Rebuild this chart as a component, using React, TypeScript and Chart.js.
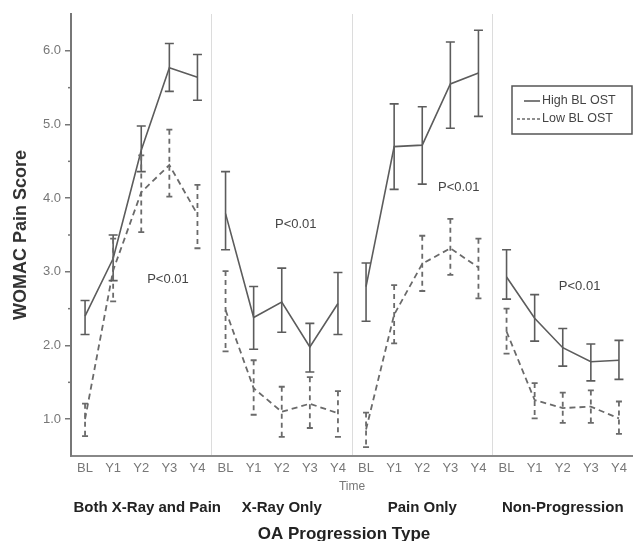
import React, { useEffect, useRef } from 'react';
import { Chart, registerables } from 'chart.js';
Chart.register(...registerables);

const timeLabels = ['BL', 'Y1', 'Y2', 'Y3', 'Y4'];
const groupLabels = ['Both X-Ray and Pain', 'X-Ray Only', 'Pain Only', 'Non-Progression'];
const categories = groupLabels.flatMap(() => timeLabels);

const highLabel = 'High BL OST';
const lowLabel = 'Low BL OST';

const highMean = [2.40, 3.18, 4.65, 5.77, 5.64, 3.79, 2.38, 2.59, 1.98, 2.57, 2.80, 4.70, 4.72, 5.55, 5.70, 2.93, 2.37, 1.97, 1.78, 1.80];
const highUpper = [2.61, 3.50, 4.98, 6.10, 5.95, 4.36, 2.80, 3.05, 2.30, 2.99, 3.12, 5.28, 5.24, 6.12, 6.28, 3.30, 2.69, 2.23, 2.02, 2.07];
const highLower = [2.15, 2.88, 4.36, 5.45, 5.33, 3.30, 1.95, 2.18, 1.64, 2.15, 2.33, 4.12, 4.19, 4.95, 5.11, 2.63, 2.06, 1.72, 1.52, 1.54];

const lowMean = [1.00, 3.02, 4.08, 4.45, 3.78, 2.48, 1.42, 1.10, 1.21, 1.08, 0.86, 2.42, 3.11, 3.32, 3.06, 2.19, 1.26, 1.15, 1.17, 1.01];
const lowUpper = [1.21, 3.45, 4.58, 4.93, 4.18, 3.01, 1.80, 1.44, 1.57, 1.38, 1.09, 2.82, 3.49, 3.72, 3.45, 2.50, 1.49, 1.36, 1.39, 1.24];
const lowLower = [0.77, 2.60, 3.54, 4.02, 3.32, 1.92, 1.06, 0.76, 0.88, 0.76, 0.62, 2.03, 2.74, 2.96, 2.64, 1.89, 1.01, 0.95, 0.95, 0.80];

const pValueText = 'P<0.01';
const pLabelIndex = [2.95, 7.5, 13.3, 17.6];
const pLabelValue = [2.9, 3.65, 4.15, 2.8];

const yTitle = 'WOMAC Pain Score';
const xTitle = 'Time';
const groupTitle = 'OA Progression Type';

const FONT = "'Liberation Sans', Arial, sans-serif";
const HIGH_COLOR = '#5c5c5c';
const LOW_COLOR = '#6a6a6a';
const PANEL = 5;

const decorPlugin = {
  id: 'decor',
  afterDatasetsDraw(chart: any) {
    const { ctx } = chart;
    const xs = chart.scales.x;
    const ys = chart.scales.y;
    const series = [
      { up: highUpper, lo: highLower, color: HIGH_COLOR, dash: [] as number[], cap: 4.5, w: 1.6 },
      { up: lowUpper, lo: lowLower, color: LOW_COLOR, dash: [5, 4], cap: 3, w: 1.8 },
    ];
    ctx.save();
    series.forEach((s) => {
      ctx.strokeStyle = s.color;
      ctx.lineWidth = s.w;
      for (let j = 0; j < s.up.length; j++) {
        const x = xs.getPixelForValue(j);
        const yt = ys.getPixelForValue(s.up[j]);
        const yb = ys.getPixelForValue(s.lo[j]);
        ctx.setLineDash(s.dash);
        ctx.beginPath();
        ctx.moveTo(x, yt);
        ctx.lineTo(x, yb);
        ctx.stroke();
        ctx.setLineDash([]);
        ctx.beginPath();
        ctx.moveTo(x - s.cap, yt);
        ctx.lineTo(x + s.cap, yt);
        ctx.moveTo(x - s.cap, yb);
        ctx.lineTo(x + s.cap, yb);
        ctx.stroke();
      }
    });
    ctx.restore();
  },
  afterDraw(chart: any) {
    const { ctx, chartArea } = chart;
    const xs = chart.scales.x;
    const ys = chart.scales.y;
    ctx.save();
    // minor y ticks
    ctx.strokeStyle = '#777';
    ctx.lineWidth = 1.5;
    for (let v = 1.5; v < 6.0; v += 1) {
      const y = ys.getPixelForValue(v);
      ctx.beginPath();
      ctx.moveTo(chartArea.left - 3, y);
      ctx.lineTo(chartArea.left, y);
      ctx.stroke();
    }
    // p-value labels
    ctx.fillStyle = '#444';
    ctx.font = `13px ${FONT}`;
    ctx.textAlign = 'center';
    ctx.textBaseline = 'middle';
    pLabelIndex.forEach((ix, k) => {
      ctx.fillText(pValueText, xs.getPixelForValue(ix), ys.getPixelForValue(pLabelValue[k]));
    });
    // legend
    const lx = 512, ly = 86, lw = 120, lh = 48;
    ctx.strokeStyle = '#555';
    ctx.lineWidth = 1.5;
    ctx.strokeRect(lx, ly, lw, lh);
    ctx.lineWidth = 1.6;
    ctx.strokeStyle = HIGH_COLOR;
    ctx.beginPath();
    ctx.moveTo(lx + 12, ly + 15);
    ctx.lineTo(lx + 28, ly + 15);
    ctx.stroke();
    ctx.strokeStyle = LOW_COLOR;
    ctx.setLineDash([3, 2]);
    ctx.beginPath();
    ctx.moveTo(lx + 5, ly + 33);
    ctx.lineTo(lx + 28, ly + 33);
    ctx.stroke();
    ctx.setLineDash([]);
    ctx.fillStyle = '#444';
    ctx.font = `12.5px ${FONT}`;
    ctx.textAlign = 'left';
    ctx.fillText(highLabel, lx + 30, ly + 15);
    ctx.fillText(lowLabel, lx + 30, ly + 33);
    // x title
    const midX = (chartArea.left + chartArea.right) / 2;
    ctx.textAlign = 'center';
    ctx.fillStyle = '#777';
    ctx.font = `12px ${FONT}`;
    ctx.fillText(xTitle, midX, chartArea.bottom + 31);
    // group labels
    ctx.fillStyle = '#222';
    ctx.font = `bold 15px ${FONT}`;
    groupLabels.forEach((g, k) => {
      const a = xs.getPixelForValue(k * PANEL - 0.5);
      const b = xs.getPixelForValue(k * PANEL + PANEL - 0.5);
      ctx.fillText(g, (a + b) / 2 + (k === 0 ? 6 : 0), chartArea.bottom + 52);
    });
    ctx.font = `bold 17px ${FONT}`;
    ctx.fillText(groupTitle, midX - 8, chartArea.bottom + 78);
    ctx.restore();
  },
};

export default function App() {
  const ref = useRef<HTMLCanvasElement>(null);
  useEffect(() => {
    document.body.style.margin = '0';
    document.body.style.overflow = 'hidden';
    const gapColor = (c: string) => (ctx: any) => (ctx.p0DataIndex % PANEL === PANEL - 1 ? 'rgba(0,0,0,0)' : c);
    const chart = new Chart(ref.current as HTMLCanvasElement, {
      type: 'line',
      data: {
        labels: categories,
        datasets: [
          {
            label: highLabel,
            data: highMean,
            borderColor: HIGH_COLOR,
            borderWidth: 1.6,
            pointRadius: 0,
            tension: 0,
            segment: { borderColor: gapColor(HIGH_COLOR) },
          },
          {
            label: lowLabel,
            data: lowMean,
            borderColor: LOW_COLOR,
            borderWidth: 1.8,
            borderDash: [6, 4],
            pointRadius: 0,
            tension: 0,
            segment: { borderColor: gapColor(LOW_COLOR) },
          },
        ],
      },
      options: {
        responsive: false,
        animation: false,
        devicePixelRatio: 1,
        layout: { padding: { top: 14, left: 0, right: 0, bottom: 0 } },
        plugins: { legend: { display: false }, tooltip: { enabled: false }, title: { display: false } },
        scales: {
          x: {
            type: 'category',
            offset: true,
            afterFit: (s: any) => { s.height = 85; },
            grid: {
              offset: true,
              drawTicks: false,
              lineWidth: 1,
              color: (c: any) => (c.index > 0 && c.index < categories.length && c.index % PANEL === 0 ? '#dcdcdc' : 'rgba(0,0,0,0)'),
            },
            border: { color: '#888', width: 2 },
            ticks: { autoSkip: false, maxRotation: 0, padding: 5, color: '#777', font: { family: FONT, size: 13 } },
          },
          y: {
            min: 0.5,
            max: 6.5,
            afterFit: (s: any) => { s.width = 71; },
            grid: {
              drawOnChartArea: false,
              drawTicks: true,
              tickLength: 6,
              lineWidth: 1.5,
              tickColor: (c: any) => (c.tick && Math.abs(c.tick.value % 1) < 1e-6 ? '#777' : 'rgba(0,0,0,0)'),
            },
            border: { color: '#777', width: 2 },
            ticks: {
              stepSize: 0.5,
              padding: 4,
              color: '#777',
              font: { family: FONT, size: 13 },
              callback: (v: any) => (Math.abs(v % 1) < 1e-6 && v >= 1 && v <= 6 ? Number(v).toFixed(1) : ''),
            },
            title: {
              display: true,
              text: yTitle,
              color: '#333',
              font: { family: FONT, size: 18, weight: 'bold' },
              padding: { top: 10, bottom: 0 },
            },
          },
        },
      },
      plugins: [decorPlugin],
    } as any);
    return () => chart.destroy();
  }, []);
  return <canvas ref={ref} width={633} height={541} style={{ display: 'block' }} />;
}
